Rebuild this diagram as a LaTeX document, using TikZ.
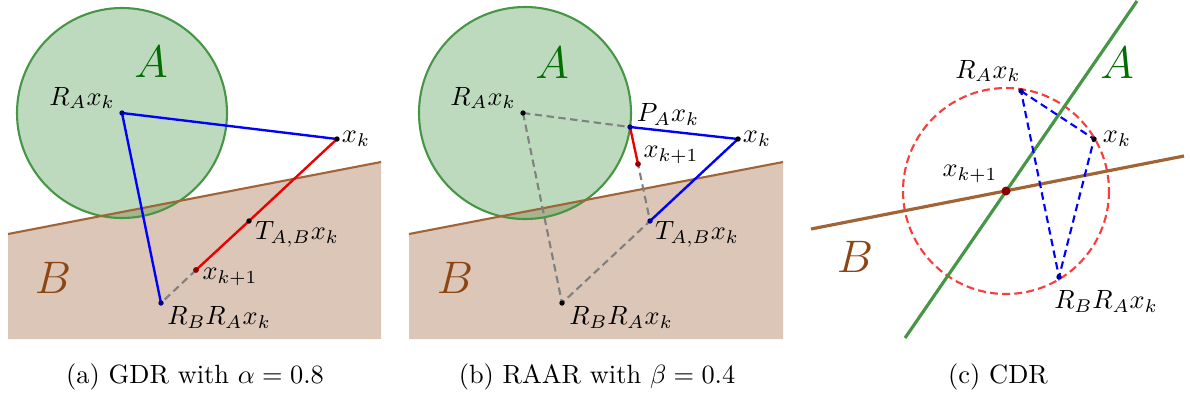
\documentclass[tikz,border=0pt]{standalone}
\usepackage{xcolor}
\definecolor{gline}{RGB}{70,150,70}
\definecolor{bfill}{RGB}{220,198,183}
\definecolor{bline}{RGB}{160,100,55}
\definecolor{Acol}{RGB}{0,110,0}
\definecolor{Bcol}{RGB}{140,70,20}
\definecolor{navy}{RGB}{0,0,140}
\definecolor{dred}{RGB}{140,0,0}
\definecolor{lred}{RGB}{235,0,0}
\definecolor{cred}{RGB}{250,60,60}
\tikzset{
  dotk/.style={fill=black,radius=2.7},
  dotn/.style={fill=navy,radius=2.7},
  dotr/.style={fill=dred,radius=2.9},
  bluel/.style={blue,line width=0.9pt},
  redl/.style={lred,line width=0.9pt},
  grayd/.style={gray,line width=0.8pt,dash pattern=on 2.8pt off 1.7pt},
  blued/.style={blue,line width=0.8pt,dash pattern=on 2.8pt off 1.7pt},
  setA/.style={draw=gline,line width=0.8pt,fill=gline,fill opacity=0.35},
  setB/.style={fill=bfill,draw=none},
  lineB/.style={bline,line width=0.8pt},
  lab/.style={inner sep=0pt},
  bigA/.style={inner sep=0pt,text=Acol,font=\LARGE},
  bigB/.style={inner sep=0pt,text=Bcol,font=\LARGE},
  captext/.style={inner sep=0pt}
}
\begin{document}
\begin{tikzpicture}[x=0.379pt,y=-0.379pt]
\useasboundingbox (0,0) rectangle (1190,398);
% ---------------- panel (a)
\coordinate (aB1) at (8,234);
\coordinate (aB2) at (381,162);
\fill[setB] (aB1) -- (aB2) -- (381,339) -- (8,339) -- cycle;
\coordinate (aRA) at (122,113);
\draw[setA] (aRA) circle[radius=105];
\draw[lineB] (aB1) -- (aB2);
\coordinate (axk) at (337,139);
\coordinate (aT) at (249,221);
\coordinate (axk1) at (196,270);
\coordinate (aRB) at (161,303);
\draw[bluel] (axk) -- (aRA) -- (aRB);
\draw[redl] (axk) -- (aT) -- (axk1);
\draw[grayd] (axk1) -- (aRB);
\fill[dotn] (aRA) circle;
\fill[dotk] (axk) circle;
\fill[dotk] (aT) circle;
\fill[dotr] (axk1) circle;
\fill[dotn] (aRB) circle;
\node[bigA] (aAl) at (151,62) {$A$};
\node[bigB] (aBl) at (53,278) {$B$};
\node[lab] (aRAl) at (82,98) {$R_Ax_k$};
\node[lab] (axkl) at (356,139) {$x_k$};
\node[lab] (aTl) at (297,234) {$T_{A,B}x_k$};
\node[lab] (axk1l) at (230,277) {$x_{k+1}$};
\node[lab] (aRBl) at (219,317) {$R_BR_Ax_k$};
\node[captext] (acap) at (195,377) {(a) GDR with $\alpha=0.8$};
% ---------------- panel (b)
\coordinate (bB1) at (409,234);
\coordinate (bB2) at (783,162);
\fill[setB] (bB1) -- (bB2) -- (783,339) -- (409,339) -- cycle;
\coordinate (bRA) at (523,113);
\draw[setA] (525,113) circle[radius=106];
\draw[lineB] (bB1) -- (bB2);
\coordinate (bPA) at (630,127);
\coordinate (bxk) at (738,139);
\coordinate (bxk1) at (638,164);
\coordinate (bT) at (650,221);
\coordinate (bRB) at (562,303);
\draw[grayd] (bRA) -- (bPA);
\draw[grayd] (bRA) -- (bRB) -- (bT) -- (bxk1);
\draw[bluel] (bPA) -- (bxk) -- (bT);
\draw[redl] (bPA) -- (bxk1);
\fill[dotk] (bRA) circle;
\fill[dotn] (bPA) circle;
\fill[dotk] (bxk) circle;
\fill[dotr] (bxk1) circle;
\fill[dotn] (bT) circle;
\fill[dotk] (bRB) circle;
\node[bigA] (bAl) at (552,63) {$A$};
\node[bigB] (bBl) at (455,278) {$B$};
\node[lab] (bRAl) at (483,98) {$R_Ax_k$};
\node[lab] (bPAl) at (668,114) {$P_Ax_k$};
\node[lab] (bxkl) at (757,139) {$x_k$};
\node[lab] (bxk1l) at (671,155) {$x_{k+1}$};
\node[lab] (bTl) at (697,234) {$T_{A,B}x_k$};
\node[lab] (bRBl) at (621,317) {$R_BR_Ax_k$};
\node[captext] (bcap) at (597,377) {(b) RAAR with $\beta=0.4$};
% ---------------- panel (c)
\coordinate (cA1) at (905,338);
\coordinate (cA2) at (1137,1);
\coordinate (cB1) at (811,229);
\coordinate (cB2) at (1184,156);
\coordinate (cxk1) at (1006,191);
\coordinate (cRA) at (1021,91);
\coordinate (cxk) at (1094,139);
\coordinate (cRB) at (1059,277);
\draw[cred,line width=0.8pt,dash pattern=on 3pt off 1.6pt] (cxk1) circle[radius=103];
\draw[bline,line width=1.2pt] (cB1) -- (cB2);
\draw[gline,line width=1.2pt] (cA1) -- (cA2);
\draw[blued] (cRA) -- (cxk) -- (cRB) -- cycle;
\fill[dotn] (cRA) circle;
\fill[dotk] (cxk) circle;
\fill[dotn] (cRB) circle;
\fill[dred] (cxk1) circle[radius=4.5];
\node[bigA] (cAl) at (1117,63) {$A$};
\node[bigB] (cBl) at (855,257) {$B$};
\node[lab] (cRAl) at (988,71) {$R_Ax_k$};
\node[lab] (cxkl) at (1117,139) {$x_k$};
\node[lab] (cxk1l) at (970,174) {$x_{k+1}$};
\node[lab] (cRBl) at (1106,301) {$R_BR_Ax_k$};
\node[captext] (ccap) at (998,377) {(c) CDR};
\end{tikzpicture}
\end{document}
